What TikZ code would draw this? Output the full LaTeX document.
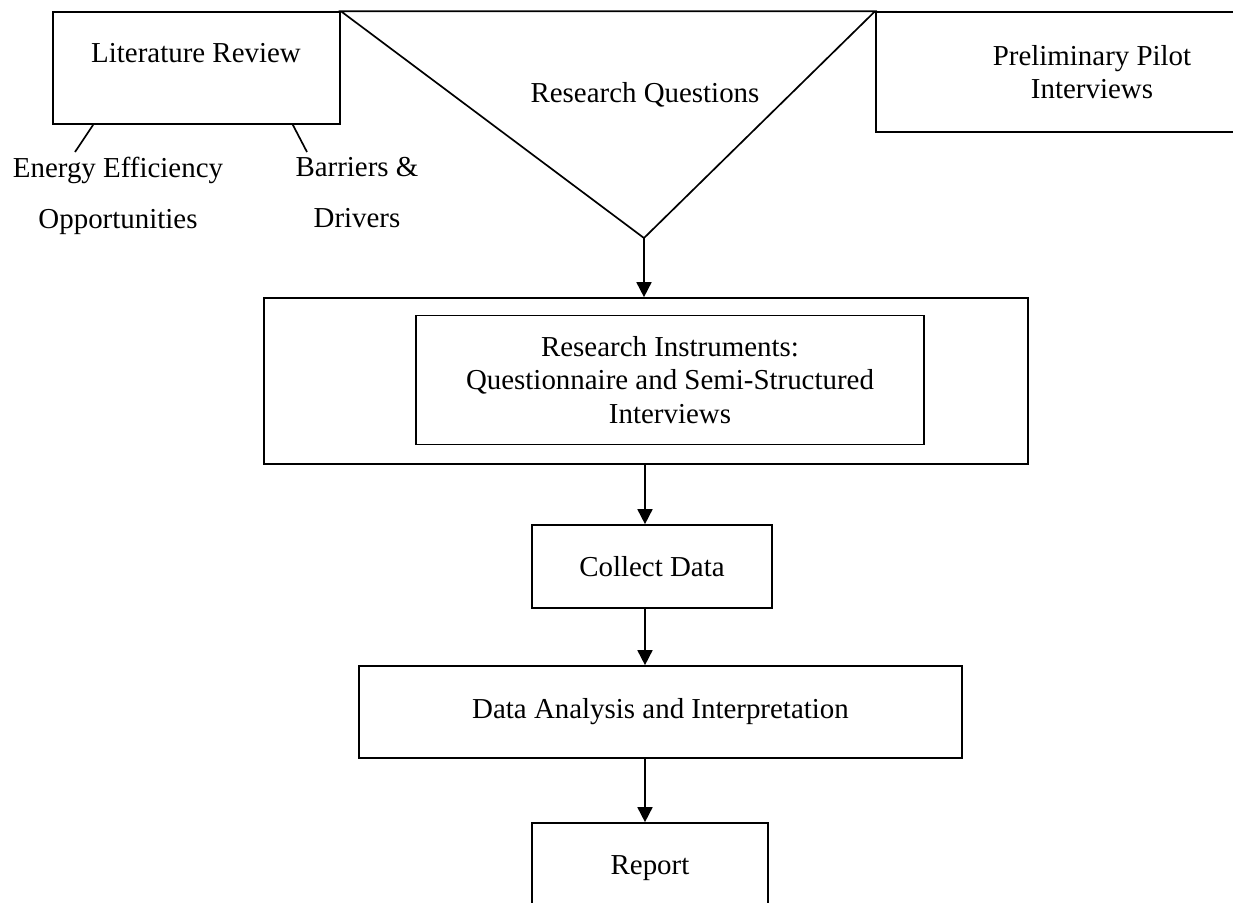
\documentclass[tikz,border=0pt]{standalone}
\usepackage{fontspec}
\setmainfont{Liberation Serif}
\usetikzlibrary{arrows.meta}
\newcommand{\pxu}{0.415pt}
\tikzset{
  box/.style={draw, line width=0.7pt, inner sep=0pt},
  arr/.style={line width=0.7pt, -{Triangle[length=6.2pt,width=6.2pt]}},
}
\begin{document}
\begin{tikzpicture}[x=0.415pt,y=-0.415pt,font=\fontsize{12pt}{14pt}\selectfont]
\useasboundingbox (0,0) rectangle (1233,902);
  % top row
  \node[box, minimum width=287*\pxu, minimum height=112*\pxu] (lit) at (196.5,68) {};
  \node (littext) at (196,53) {Literature Review};
  \node[box, minimum width=432*\pxu, minimum height=120*\pxu, align=center] (pilot) at (1092,72) {Preliminary Pilot\\Interviews};
  \coordinate (apex) at (644,238);
  \draw[line width=0.7pt] (lit.north east) -- (pilot.north west) -- (apex) -- cycle;
  \node (rq) at (645,95) {Research Questions};
  % branches of the review
  \node[align=center, anchor=north, inner sep=0pt] (eeo) at (118,157) {Energy Efficiency\\[7pt]Opportunities};
  \node[align=center, anchor=north, inner sep=0pt] (bd) at (357,157) {Barriers \&\\[7pt]Drivers};
  \coordinate (eetop) at (75,152);
  \coordinate (bdtop) at (307,152);
  \draw[line width=0.7pt] ([xshift=41*\pxu]lit.south west) -- (eetop);
  \draw[line width=0.7pt] ([xshift=-48*\pxu]lit.south east) -- (bdtop);
  % instruments
  \node[box, minimum width=764*\pxu, minimum height=166*\pxu] (outer) at (646,381) {};
  \node[box, minimum width=508*\pxu, minimum height=129*\pxu, align=center] (inner) at (670,380) {Research Instruments:\\Questionnaire and Semi-Structured\\Interviews};
  % lower chain
  \node[box, minimum width=240*\pxu, minimum height=83*\pxu] (collect) at (652,566.5) {Collect Data};
  \node[box, minimum width=603*\pxu, minimum height=92*\pxu] (analysis) at (660.5,712) {Data Analysis and Interpretation};
  \node[box, minimum width=236*\pxu, minimum height=90*\pxu] (report) at (650,868) {Report};
  \coordinate (spine) at (645,0);
  \draw[arr] (apex) -- (apex |- outer.north);
  \foreach \a/\b in {outer/collect, collect/analysis, analysis/report}
    \draw[arr] (spine |- \a.south) -- (spine |- \b.north);
\end{tikzpicture}
\end{document}
